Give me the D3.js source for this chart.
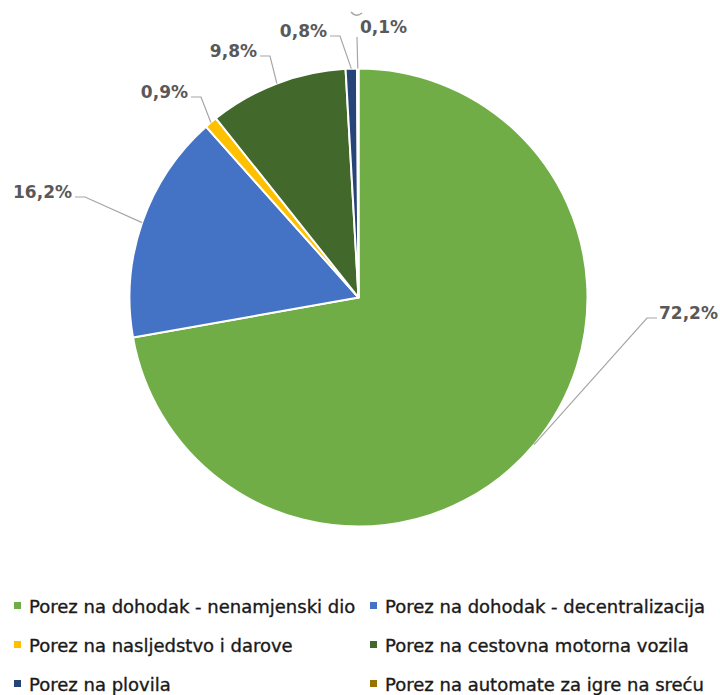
<!DOCTYPE html>
<html>
<head>
<meta charset="utf-8">
<script src="https://cdn.jsdelivr.net/npm/d3@7"></script>
<style>
  html, body { margin: 0; padding: 0; background: #fff; }
  svg { display: block; }
</style>
</head>
<body>
<svg id="chart" width="720" height="695"></svg>
<script>
// ---- data ----
const categories = [
  "Porez na dohodak - nenamjenski dio",
  "Porez na dohodak - decentralizacija",
  "Porez na nasljedstvo i darove",
  "Porez na cestovna motorna vozila",
  "Porez na plovila",
  "Porez na automate za igre na sreću"
];
const values = [72.2, 16.2, 0.9, 9.8, 0.8, 0.1];
const valueLabels = ["72,2%", "16,2%", "0,9%", "9,8%", "0,8%", "0,1%"];
const colors = ["#70AD47", "#4472C4", "#FFC000", "#43682B", "#264478", "#997300"];

// ---- layout ----
const cx = 358.5, cy = 297.5, R = 229;
// label elbow points (layout) and side
const elbows = [
  {x: 647, y: 318, side: "right"},
  {x: 85, y: 197, side: "left"},
  {x: 201, y: 97, side: "left"},
  {x: 270, y: 56, side: "left"},
  {x: 340, y: 36, side: "left"},
  {x: 357, y: 37, side: "top"}
];

const svg = d3.select("#chart");
const data = categories.map((c, i) => ({name: c, value: values[i], label: valueLabels[i], color: colors[i]}));

const pie = d3.pie().sort(null).value(d => d.value);
const arcs = pie(data);
const arcGen = d3.arc().innerRadius(0).outerRadius(R);

const g = svg.append("g").attr("transform", `translate(${cx},${cy})`);
g.selectAll("path.slice")
  .data(arcs)
  .enter().append("path")
  .attr("class", "slice")
  .attr("d", arcGen)
  .attr("fill", d => d.data.color)
  .attr("stroke", "#fff")
  .attr("stroke-width", 2)
  .attr("stroke-linejoin", "round");

// leader lines & labels
const labelG = svg.append("g");
arcs.forEach((a, i) => {
  const mid = (a.startAngle + a.endAngle) / 2;
  const px = cx + R * Math.sin(mid);
  const py = cy - R * Math.cos(mid);
  const e = elbows[i];
  let pts, tx, ty, anchor;
  if (e.side === "right") {
    pts = [[px, py], [e.x, e.y], [e.x + 10, e.y]];
    tx = e.x + 12; ty = e.y + 1; anchor = "start";
  } else if (e.side === "left") {
    pts = [[px, py], [e.x, e.y], [e.x - 10, e.y]];
    tx = e.x - 13; ty = e.y + 1; anchor = "end";
  } else {
    pts = [[px, py], [e.x, e.y]];
    tx = e.x + 3; ty = 33; anchor = "start";
  }
  labelG.append("path")
    .attr("d", d3.line()(pts))
    .attr("fill", "none")
    .attr("stroke", "#A6A6A6")
    .attr("stroke-width", 1.2);
  labelG.append("text")
    .attr("x", tx).attr("y", ty)
    .attr("text-anchor", anchor)
    .attr("font-family", "DejaVu Sans, sans-serif")
    .attr("font-weight", "bold")
    .attr("font-size", "17px")
    .attr("fill", "#595959")
    .text(a.data.label);
});
// small curved stub above the 0,1% label
labelG.append("path")
  .attr("d", "M351,12 Q356,18 362,13")
  .attr("fill", "none")
  .attr("stroke", "#A6A6A6")
  .attr("stroke-width", 1.5);

// legend
const legCols = [14, 370];
const legRows = [606, 645, 684];
const leg = svg.append("g");
data.forEach((d, i) => {
  const x = legCols[i % 2], y = legRows[Math.floor(i / 2)];
  leg.append("rect")
    .attr("x", x).attr("y", y - 4).attr("width", 7).attr("height", 7)
    .attr("fill", d.color);
  leg.append("text")
    .attr("x", x + 15).attr("y", y + 6.5)
    .attr("font-family", "DejaVu Sans, sans-serif")
    .attr("font-size", "18px")
    .attr("fill", "#1a1a1a")
    .attr("stroke", "#1a1a1a")
    .attr("stroke-width", 0.35)
    .text(d.name);
});
</script>
</body>
</html>
